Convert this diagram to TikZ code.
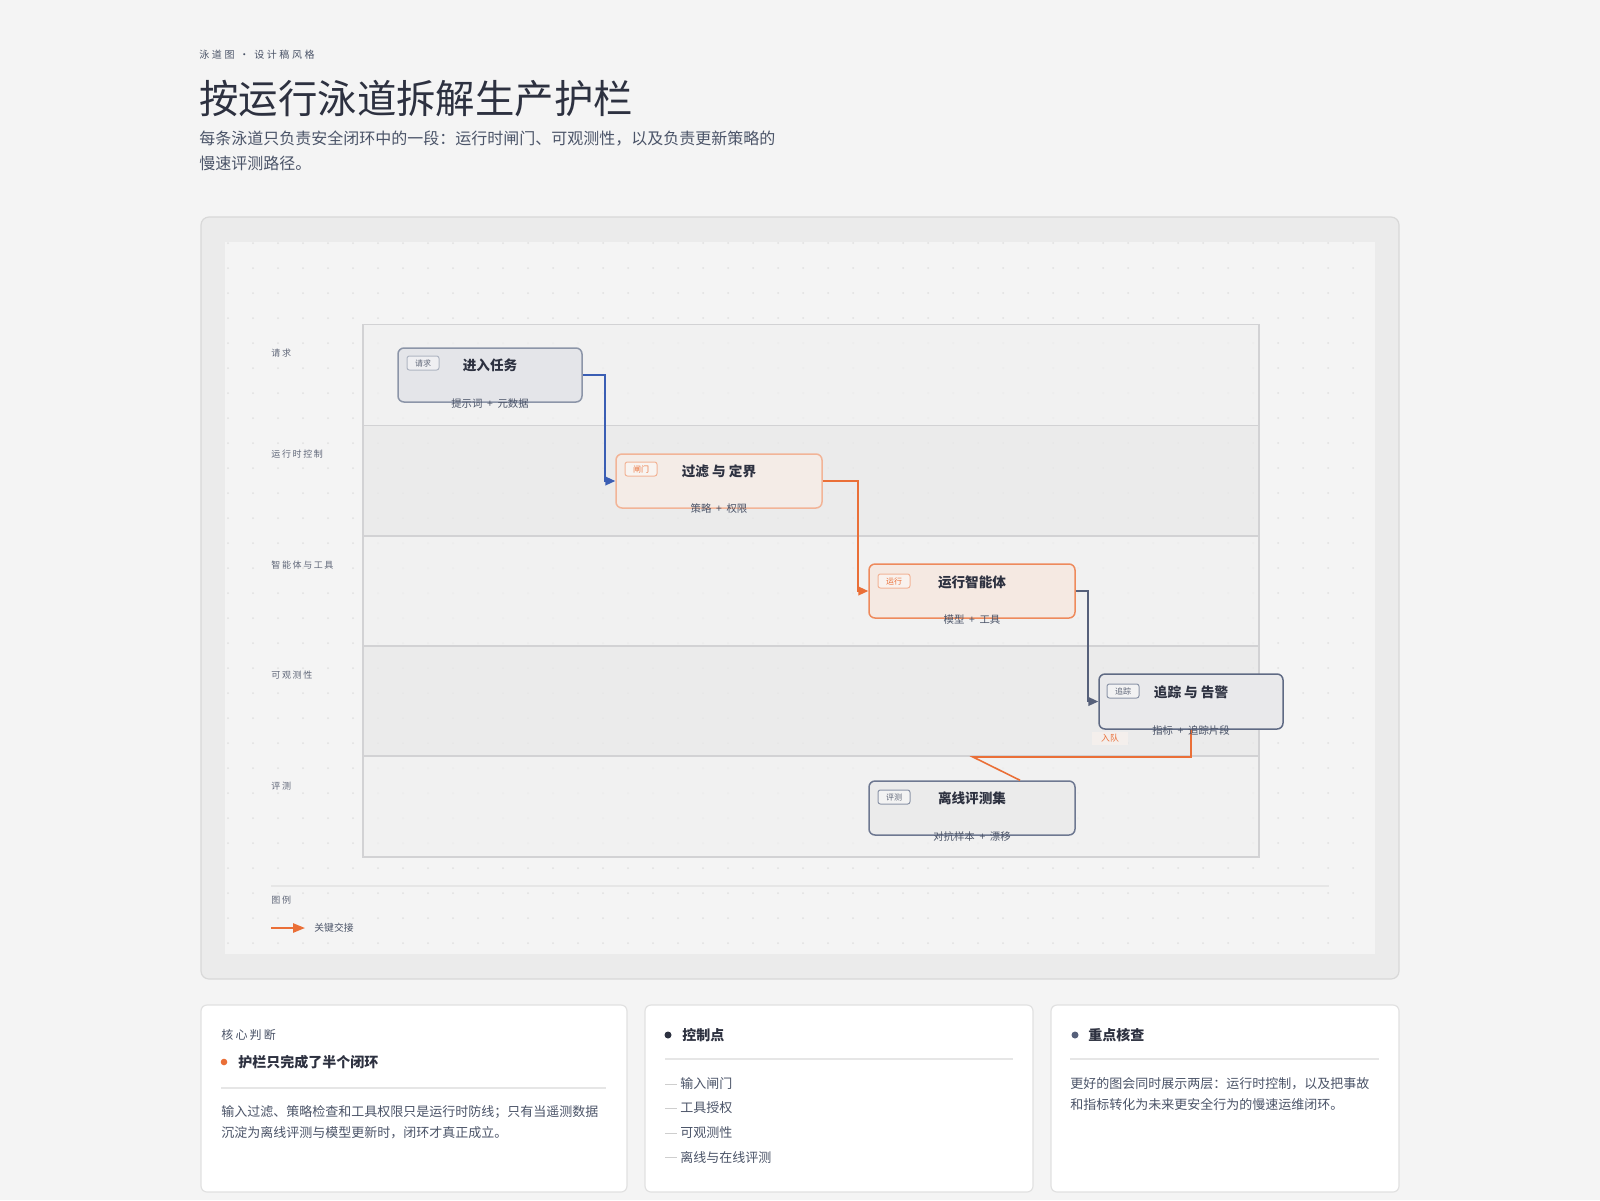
\documentclass[tikz,border=0pt]{standalone}
\usepackage{fontspec}
\setmainfont{Noto Sans CJK SC}
\newfontfamily\spaced[LetterSpace=18]{Noto Sans CJK SC}
\newfontfamily\wspaced[LetterSpace=26]{Noto Sans CJK SC}
\usetikzlibrary{arrows.meta,calc}
\definecolor{pagebg}{HTML}{F4F4F4}
\definecolor{panelbg}{HTML}{EBEBEB}
\definecolor{panelbd}{HTML}{D8D8D8}
\definecolor{lanelt}{HTML}{F0F0F0}
\definecolor{lanedk}{HTML}{E9E9E9}
\definecolor{lanebd}{HTML}{D2D2D4}
\definecolor{dotc}{HTML}{E0E0E0}
\definecolor{ink}{HTML}{2D3140}
\definecolor{mid}{HTML}{4B5468}
\definecolor{lab}{HTML}{5F6678}
\definecolor{orng}{HTML}{EA6F37}
\definecolor{blu}{HTML}{3A5EB4}
\definecolor{slate}{HTML}{56607A}
\definecolor{aF}{HTML}{E4E5E9}\definecolor{aD}{HTML}{8C95A8}
\definecolor{bF}{HTML}{F4ECE7}\definecolor{bD}{HTML}{F2B497}
\definecolor{cF}{HTML}{F5E9E2}\definecolor{cD}{HTML}{EE8A5C}
\definecolor{dF}{HTML}{E9E9EB}\definecolor{dD}{HTML}{5F6A84}
\definecolor{eF}{HTML}{EBEBEB}\definecolor{eD}{HTML}{6E7891}
\definecolor{sep}{HTML}{E6E6E6}
\definecolor{cardbd}{HTML}{E1E1E1}
\newcommand{\fsz}[1]{\fontsize{#1}{#1}\selectfont}
\begin{document}
\begin{tikzpicture}[x=0.5pt,y=-0.5pt,
  txt/.style={inner sep=0pt, anchor=west, text=mid},
  ctr/.style={inner sep=0pt, anchor=center},
  box/.style={draw, rounded corners=3pt, line width=0.75pt, inner sep=0pt, minimum height=27pt},
  ttl/.style={inner sep=0pt, anchor=center, text=ink, font=\fsz{6.8pt}\bfseries},
  sub/.style={inner sep=0pt, anchor=center, text=mid, font=\fsz{5.2pt}},
  tag/.style={draw, rounded corners=1.2pt, line width=0.5pt, inner sep=0pt, minimum width=16pt, minimum height=7pt, font=\fsz{4pt}},
  lanelab/.style={inner sep=0pt, anchor=west, text=lab, font=\fsz{4.5pt}\spaced},
  conn/.style={line width=0.8pt, rounded corners=0pt},
  tip/.style={-{Triangle[length=5pt,width=4.4pt]}},
  card/.style={draw=cardbd, fill=white, line width=0.6pt, rounded corners=3pt},
  body/.style={inner sep=0pt, anchor=west, text=mid, font=\fsz{6.5pt}},
  head/.style={inner sep=0pt, anchor=west, text=ink, font=\fsz{7pt}\bfseries},
  seprule/.style={draw=sep, line width=0.6pt}
]
\useasboundingbox (0,0) rectangle (1600,1200);
\fill[pagebg] (0,0) rectangle (1600,1200);

% header
\node[txt, text=mid, font=\fsz{5pt}\wspaced] (over) at (199,55) {泳道图 · 设计稿风格};
\node[txt, text=ink, font=\fsz{19.7pt}] (title) at (199,99) {按运行泳道拆解生产护栏};
\node[txt, font=\fsz{8pt}] (sub1) at (199,139) {每条泳道只负责安全闭环中的一段：运行时闸门、可观测性，以及负责更新策略的};
\node[txt, font=\fsz{8pt}] (sub2) at (199,163) {慢速评测路径。};

% panel
\draw[fill=panelbg, draw=panelbd, line width=0.6pt, rounded corners=4pt] (201,217) rectangle (1399,979);
\fill[pagebg] (225,242) rectangle (1375,954);
\foreach \x in {228,253,...,1375}
  \foreach \y in {243,268,...,954}
    \fill[dotc] (\x,\y) circle (1);

% lanes
\fill[lanelt, opacity=0.75] (363,324.5) rectangle (1259,425.5);
\fill[lanedk, opacity=0.75] (363,425.5) rectangle (1259,535.7);
\fill[lanelt, opacity=0.75] (363,535.7) rectangle (1259,646);
\fill[lanedk, opacity=0.75] (363,646) rectangle (1259,756);
\fill[lanelt, opacity=0.75] (363,756) rectangle (1259,857);
\draw[lanebd, line width=0.6pt] (363,324.5) rectangle (1259,857);
\foreach \y in {425.5,535.7,646,756}
  \draw[lanebd, line width=0.8pt] (363,\y) -- (1259,\y);

\node[lanelab] (l1) at (271,353) {请求};
\node[lanelab] (l2) at (271,454) {运行时控制};
\node[lanelab] (l3) at (271,565) {智能体与工具};
\node[lanelab] (l4) at (271,675.5) {可观测性};
\node[lanelab] (l5) at (271,786) {评测};

\coordinate (k1) at (1191,757);
\coordinate (k2) at (973,757);

% nodes
\node[box, fill=aF, draw=aD, minimum width=92pt] (n1) at (490,375) {};
\node[box, fill=bF, draw=bD, minimum width=103pt] (n2) at (719,481) {};
\node[box, fill=cF, draw=cD, minimum width=103pt] (n3) at (972,591) {};
\node[box, fill=dF, draw=dD, minimum width=92pt, minimum height=27.5pt] (n4) at (1191,701.5) {};
\node[box, fill=eF, draw=eD, minimum width=103pt] (n5) at (972,808) {};

\draw[conn, blu, tip] (n1.east) -- ++(22,0) |- (n2.west);
\draw[conn, orng, tip] (n2.east) -- ++(35,0) |- (n3.west);
\draw[conn, slate, tip] (n3.east) -- ++(12,0) |- (n4.west);
\draw[conn, orng] (n4.south) -- (k1) -- (k2) -- ($(n5.north)+(48,0)$);
\node[inner sep=0pt, fill=bF!60!pagebg, minimum width=18pt, minimum height=6.5pt, text=orng, font=\fsz{4.4pt}] (q) at (1110,738.5) {入队};

% node texts
\node[tag, draw=aD!70, fill=aF!60!white, text=lab] (t1) at (423,363) {请求};
\node[ttl] (h1) at (490,365) {进入任务};
\node[sub] (s1) at (490,404) {提示词~~+~~元数据};

\node[tag, draw=bD, fill=bF!60!white, text=orng] (t2) at (641,469) {闸门};
\node[ttl] (h2) at (719,471) {过滤 与 定界};
\node[sub] (s2) at (719,509) {策略~~+~~权限};

\node[tag, draw=bD, fill=cF!60!white, text=orng] (t3) at (894,581) {运行};
\node[ttl] (h3) at (972,582) {运行智能体};
\node[sub] (s3) at (972,620) {模型~~+~~工具};

\node[tag, draw=aD, fill=dF!60!white, text=lab] (t4) at (1123,691) {追踪};
\node[ttl] (h4) at (1191,692) {追踪 与 告警};
\node[sub] (s4) at (1191,731) {指标~~+~~追踪片段};

\node[tag, draw=aD, fill=eF!60!white, text=lab] (t5) at (894,797) {评测};
\node[ttl] (h5) at (972,798) {离线评测集};
\node[sub] (s5) at (972,837) {对抗样本~~+~~漂移};

% legend
\draw[sep, line width=0.8pt] (271,886) -- (1329,886);
\node[lanelab] (lg) at (271,900) {图例};
\coordinate (la) at (271,928);
\coordinate (lb) at (305,928);
\draw[orng, line width=1pt, -{Triangle[length=6pt,width=4.6pt]}] (la) -- (lb);
\node[txt, font=\fsz{4.9pt}] (lgt) at (314,928) {关键交接};

% cards
\draw[card] (201,1005) rectangle (627,1192);
\draw[card] (645,1005) rectangle (1033,1192);
\draw[card] (1051,1005) rectangle (1399,1192);

\node[txt, font=\fsz{6pt}\spaced] (c1a) at (221,1035) {核心判断};
\fill[orng] (224,1062) circle (3.3);
\node[head] (c1h) at (238,1062) {护栏只完成了半个闭环};
\draw[seprule] (221,1088) -- (606,1088);
\node[body] (c1b1) at (221,1112) {输入过滤、策略检查和工具权限只是运行时防线；只有当遥测数据};
\node[body] (c1b2) at (221,1133) {沉淀为离线评测与模型更新时，闭环才真正成立。};

\fill[ink] (668,1035) circle (3.5);
\node[head] (c2h) at (682,1035) {控制点};
\draw[seprule] (665,1059) -- (1013,1059);
\foreach \yy/\tt [count=\i] in {1084/输入闸门,1108/工具授权,1133/可观测性,1157/离线与在线评测}{
  \draw[cardbd!80!gray, line width=0.5pt] (665,\yy) -- (677,\yy);
  \node[body] (c2i\i) at (680,\yy) {\tt};
}

\fill[slate] (1075,1035) circle (3.5);
\node[head] (c3h) at (1088,1035) {重点核查};
\draw[seprule] (1070,1059) -- (1379,1059);
\node[body] (c3b1) at (1070,1084) {更好的图会同时展示两层：运行时控制，以及把事故};
\node[body] (c3b2) at (1070,1104) {和指标转化为未来更安全行为的慢速运维闭环。};
\end{tikzpicture}
\end{document}
